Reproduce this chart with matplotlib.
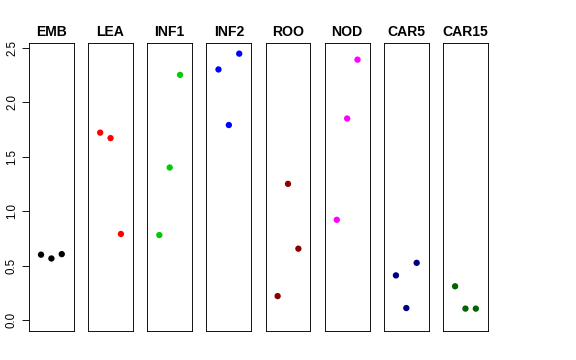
import matplotlib
matplotlib.use("Agg")
import matplotlib.pyplot as plt

plt.rcParams['font.family'] = ['Liberation Sans', 'DejaVu Sans']

categories = ["EMB", "LEA", "INF1", "INF2", "ROO", "NOD", "CAR5", "CAR15"]
emb = [0.60, 0.565, 0.605]
lea = [1.72, 1.67, 0.79]
inf1 = [0.78, 1.40, 2.25]
inf2 = [2.30, 1.79, 2.445]
roo = [0.22, 1.25, 0.655]
nod = [0.92, 1.85, 2.39]
car5 = [0.41, 0.11, 0.525]
car15 = [0.31, 0.105, 0.105]
series = [emb, lea, inf1, inf2, roo, nod, car5, car15]
colors = ["#000000", "#FF0000", "#00CD00", "#0000FF", "#8B0000", "#FF00FF", "#000080", "#006400"]
reps = [1, 2, 3]
yticks = [0.0, 0.5, 1.0, 1.5, 2.0, 2.5]

W, H = 576, 360
fig = plt.figure(figsize=(W / 72, H / 72), dpi=72)

ymax = max(max(s) for s in series)
ypad = ymax * 0.04
left0, pitch, width = 29.0, 59.15, 44.8
top, bottom = 43.0, 330.7

for i, (name, vals, col) in enumerate(zip(categories, series, colors)):
    l = left0 + pitch * i
    ax = fig.add_axes([l / W, 1 - bottom / H, width / W, (bottom - top) / H])
    ax.scatter(reps, vals, s=40, color=col, edgecolors='none', zorder=3)
    ax.set_xlim(0 - 0.16, 4 + 0.16)
    ax.set_ylim(0 - ypad, ymax + ypad)
    ax.set_xticks([])
    for sp in ax.spines.values():
        sp.set_linewidth(0.9)
        sp.set_color('black')
    ax.set_title(name, fontsize=14, fontweight='bold', pad=7)
    if i == 0:
        ax.set_yticks(yticks)
        ax.set_yticklabels([f"{t:.1f}" for t in yticks], rotation=90, va='center')
        ax.tick_params(axis='y', length=7, width=0.9, pad=4, labelsize=11.5)
    else:
        ax.set_yticks([])

fig.savefig("out.png", dpi=72)
